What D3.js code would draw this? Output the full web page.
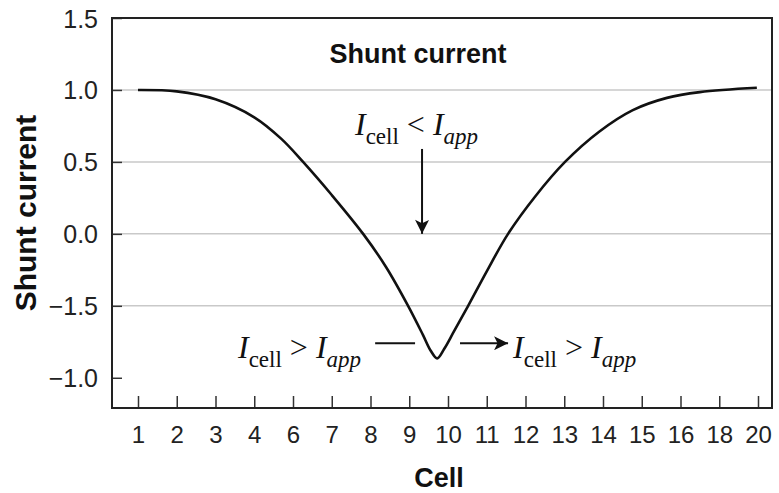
<!DOCTYPE html>
<html>
<head>
<meta charset="utf-8">
<script src="https://cdn.jsdelivr.net/npm/d3@7"></script>
<style>
  body { margin: 0; background: #fff; }
  svg { display: block; }
</style>
</head>
<body>
<div class="chart"></div>
<script>
// tick labels as printed on the original figure
const cellLabels = ["1","2","3","4","6","7","8","9","10","11","12","13","14","15","16","18","20"]
const yTickValues = [1.5, 1.0, 0.5, 0.0, -0.5, -1.0]
const yTickLabels = ["1.5","1.0","0.5","0.0","\u22121.5","\u22121.0"]

// curve, x in tick-position units (0 = first tick)
const cellPos = [0, 1, 2, 3, 3.7, 4.26, 5.0, 5.81, 6.4, 6.97, 7.35, 7.55, 7.72, 7.9, 8.15, 8.52, 9.0, 9.55, 10.25, 11.02, 11.9, 12.77, 13.65, 14.5, 15.97]
const shunt = [1.0, 0.99, 0.935, 0.81, 0.66, 0.5, 0.27, 0.0, -0.23, -0.5, -0.7, -0.81, -0.865, -0.8, -0.68, -0.5, -0.26, 0.0, 0.26, 0.5, 0.71, 0.86, 0.945, 0.985, 1.015]

const width = 779
const height = 493
const margin = { top: 18, right: 7, bottom: 85, left: 112 }

const svg = d3.select(".chart").append("svg").attr("width", width).attr("height", height)

const x = d3.scaleLinear().domain([0, cellLabels.length - 1]).range([138, 758])
const y = d3.scaleLinear().domain([-1.21, 1.5]).range([height - margin.bottom, margin.top])

const left = margin.left
const right = width - margin.right
const bottom = height - margin.bottom

// grid lines
svg.append("g")
  .selectAll("line")
  .data(yTickValues.filter(v => v < 1.5 && v > -1))
  .join("line")
  .attr("x1", left).attr("x2", right)
  .attr("y1", d => y(d)).attr("y2", d => y(d))
  .attr("stroke", "#c9c9c9")
  .attr("stroke-width", 1.5)

// y axis (inward ticks)
const yAxis = d3.axisRight(y)
  .tickValues(yTickValues)
  .tickSize(10)
  .tickFormat((d, i) => yTickLabels[i])
const yg = svg.append("g").attr("transform", `translate(${left},0)`).call(yAxis)
yg.select(".domain").remove()
yg.selectAll("line").attr("stroke", "#333").attr("stroke-width", 1.5)
yg.selectAll("text")
  .attr("x", -14)
  .attr("dy", "0.36em")
  .attr("text-anchor", "end")
  .attr("font-family", "Liberation Sans, Arial, sans-serif")
  .attr("font-size", 25)
  .attr("fill", "#222")

// x axis (inward ticks)
const xAxis = d3.axisTop(x)
  .tickValues(d3.range(cellLabels.length))
  .tickSize(12)
  .tickFormat(i => cellLabels[i])
const xg = svg.append("g").attr("transform", `translate(0,${bottom})`).call(xAxis)
xg.select(".domain").remove()
xg.selectAll("line").attr("stroke", "#333").attr("stroke-width", 1.5)
xg.selectAll("text")
  .attr("y", 35)
  .attr("dy", 0)
  .attr("font-family", "Liberation Sans, Arial, sans-serif")
  .attr("font-size", 24)
  .attr("fill", "#222")

// frame
svg.append("rect")
  .attr("x", left).attr("y", margin.top)
  .attr("width", right - left).attr("height", bottom - margin.top)
  .attr("fill", "none")
  .attr("stroke", "#222")
  .attr("stroke-width", 2)

// curve
const line = d3.line()
  .x(d => x(d[0]))
  .y(d => y(d[1]))
  .curve(d3.curveCatmullRom.alpha(0.5))

svg.append("path")
  .datum(d3.zip(cellPos, shunt))
  .attr("d", line)
  .attr("fill", "none")
  .attr("stroke", "#111")
  .attr("stroke-width", 2.6)

// titles
const sans = "Liberation Sans, Arial, sans-serif"
svg.append("text")
  .attr("x", 418).attr("y", 63)
  .attr("text-anchor", "middle")
  .attr("font-family", sans).attr("font-weight", "bold").attr("font-size", 27)
  .attr("fill", "#111")
  .text("Shunt current")

svg.append("text")
  .attr("transform", "translate(36,213) rotate(-90)")
  .attr("text-anchor", "middle")
  .attr("font-family", sans).attr("font-weight", "bold").attr("font-size", 30)
  .attr("fill", "#111")
  .text("Shunt current")

svg.append("text")
  .attr("x", 439).attr("y", 487)
  .attr("text-anchor", "middle")
  .attr("font-family", sans).attr("font-weight", "bold").attr("font-size", 27)
  .attr("fill", "#111")
  .text("Cell")

// math annotations
const serif = "Liberation Serif, Times New Roman, serif"
const mathLabel = (px, py, op) => {
  const t = svg.append("text")
    .attr("x", px).attr("y", py)
    .attr("font-family", serif).attr("font-size", 32).attr("fill", "#111")
  t.append("tspan").attr("font-style", "italic").text("I")
  t.append("tspan").attr("font-size", 23).attr("dy", 9).text("cell")
  t.append("tspan").attr("dy", -9).text(` ${op} `)
  t.append("tspan").attr("font-style", "italic").text("I")
  t.append("tspan").attr("font-style", "italic").attr("font-size", 23).attr("dy", 9).text("app")
}
mathLabel(x(5.6), y(0.69), "<")
mathLabel(x(2.58), y(-0.865), ">")
mathLabel(x(9.68), y(-0.865), ">")

const defs = svg.append("defs")
defs.append("marker")
  .attr("id", "head")
  .attr("viewBox", "0 0 10 10")
  .attr("refX", 10).attr("refY", 5)
  .attr("markerWidth", 16).attr("markerHeight", 14)
  .attr("markerUnits", "userSpaceOnUse")
  .attr("orient", "auto")
  .append("path")
  .attr("d", "M0,0 L10,5 L0,10 L2.5,5 Z")
  .attr("fill", "#111")

// vertical arrow
svg.append("line")
  .attr("x1", x(7.33)).attr("x2", x(7.33))
  .attr("y1", y(0.59)).attr("y2", y(0.0))
  .attr("stroke", "#111").attr("stroke-width", 2)
  .attr("marker-end", "url(#head)")

// dash pointing at the minimum
svg.append("line")
  .attr("x1", x(6.12)).attr("x2", x(7.15))
  .attr("y1", y(-0.76)).attr("y2", y(-0.76))
  .attr("stroke", "#111").attr("stroke-width", 2)

// arrow to the right label
svg.append("line")
  .attr("x1", x(8.31)).attr("x2", x(9.55))
  .attr("y1", y(-0.76)).attr("y2", y(-0.76))
  .attr("stroke", "#111").attr("stroke-width", 2)
  .attr("marker-end", "url(#head)")
</script>
</body>
</html>
